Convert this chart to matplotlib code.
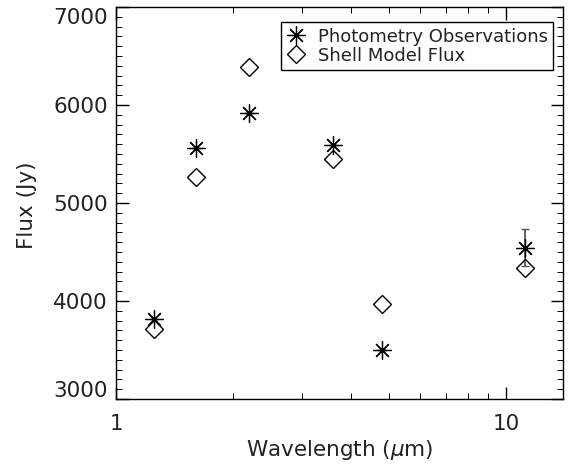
import matplotlib
matplotlib.use("Agg")
import matplotlib.pyplot as plt
import matplotlib.transforms as mtransforms
import numpy as np

# photometric bands (J, H, K, L, M, N)
wavelength = [1.25, 1.60, 2.19, 3.59, 4.80, 11.2]
obs_flux = [3815, 5565, 5915, 5595, 3505, 4545]
obs_err = [0, 0, 0, 0, 0, 187]
model_flux = [3710, 5265, 6390, 5450, 3965, 4340]

INK = "#222222"

plt.rcParams["font.family"] = "DejaVu Sans"

fig = plt.figure(figsize=(5.68, 4.69), dpi=100)
ax = fig.add_axes([116 / 568, 70 / 469, 447.3 / 568, 392 / 469])

ax.errorbar(wavelength, obs_flux, yerr=obs_err, fmt="none", ecolor="#555555",
            elinewidth=1.3, capsize=3, capthick=1.0, zorder=2)
ax.plot(wavelength, obs_flux, ls="none", marker=(8, 2, 0), ms=13, mew=0.9,
        color="black", label="Photometry Observations", zorder=3)
ax.plot(wavelength, model_flux, ls="none", marker="D", ms=9, mew=1.0,
        mfc="none", mec="black", label="Shell Model Flux", zorder=3)

ax.set_xscale("log")
ax.set_xlim(1, 14)
ax.set_ylim(3000, 7000)
ax.set_xticks([1, 10])
ax.set_xticklabels(["1", "10"])
ax.xaxis.set_minor_formatter(matplotlib.ticker.NullFormatter())
ax.set_yticks([3000, 4000, 5000, 6000, 7000])
ax.yaxis.set_minor_locator(matplotlib.ticker.MultipleLocator(100))

ax.tick_params(which="both", direction="in", top=True, right=True, colors="black",
               labelcolor=INK, labelsize=15.5)
ax.tick_params(which="major", length=9, width=1.0)
ax.tick_params(which="minor", length=4, width=0.7)
ax.tick_params(axis="x", which="major", pad=11)
ax.tick_params(axis="y", which="major", pad=6)
for s in ax.spines.values():
    s.set_linewidth(1.0)

# end labels sit inside the frame like in the original
ylabels = ax.get_yticklabels()
ylabels[0].set_transform(ylabels[0].get_transform() +
                         mtransforms.ScaledTranslation(0, 10 / 100, fig.dpi_scale_trans))
ylabels[-1].set_transform(ylabels[-1].get_transform() +
                          mtransforms.ScaledTranslation(0, -9 / 100, fig.dpi_scale_trans))

ax.set_xlabel("Wavelength ($\\mu$m)", fontsize=15.5, color=INK)
ax.set_ylabel("Flux (Jy)", fontsize=15.5, color=INK)
ax.xaxis.set_label_coords(0.5, (399 - 450) / 392)
ax.xaxis.label.set_va("center")
ax.yaxis.set_label_coords((27 - 116) / 447.3, (399 - 205) / 392)
ax.yaxis.label.set_va("center")

leg = ax.legend(loc="upper right", bbox_to_anchor=((553 - 116) / 447.3, (399 - 22.3) / 392),
                borderaxespad=0, fancybox=False, edgecolor="black", fontsize=13,
                handlelength=1.0, handletextpad=0.7, borderpad=0.3, labelspacing=0.05,
                framealpha=1)
leg.get_frame().set_linewidth(1.0)
for t in leg.get_texts():
    t.set_color(INK)

fig.savefig("out.png", dpi=100, facecolor="white")
